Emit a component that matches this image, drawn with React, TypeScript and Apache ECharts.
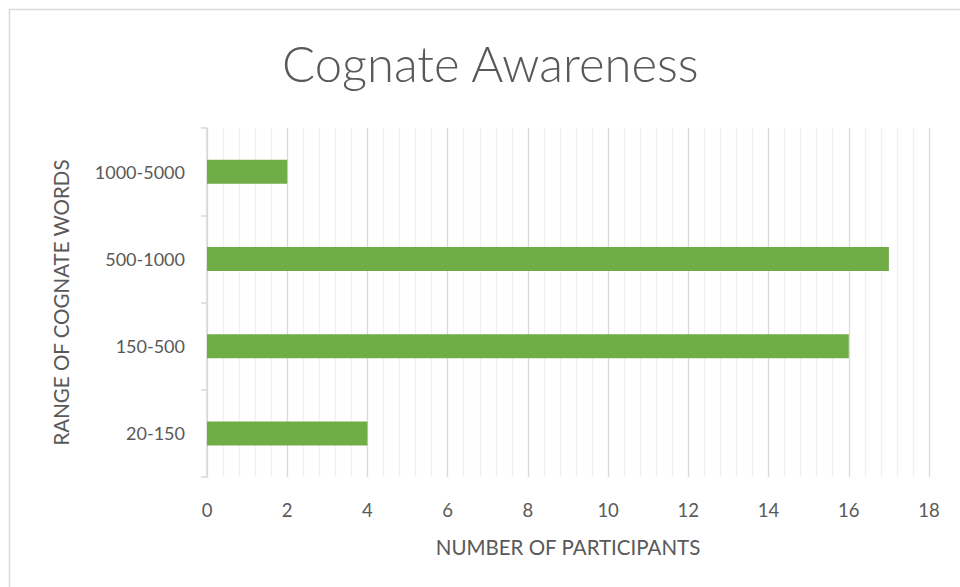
import React, { useEffect, useRef } from "react";
import * as echarts from "echarts";

const categories = ["20-150", "150-500", "500-1000", "1000-5000"];
const participants = [4, 16, 17, 2];
const titleText = "Cognate Awareness";
const xAxisTitle = "NUMBER OF PARTICIPANTS";
const yAxisTitle = "RANGE OF COGNATE WORDS";

export default function App() {
  const ref = useRef<HTMLDivElement>(null);
  useEffect(() => {
    if (!ref.current) return;
    const chart = echarts.init(ref.current, undefined, { renderer: "svg" });
    const font = "Lato, 'Open Sans', sans-serif";
    chart.setOption({
      animation: false,
      backgroundColor: "#ffffff",
      textStyle: { fontFamily: font },
      title: {
        text: titleText,
        left: 277,
        top: 33,
        textStyle: { fontFamily: font, fontSize: 49, fontWeight: 300, color: "#595959" },
      },
      graphic: [
        {
          type: "rect",
          shape: { x: 9.5, y: 9.5, width: 1000, height: 700 },
          style: { fill: "none", stroke: "#d9d9d9", lineWidth: 1.5 },
          silent: true,
        },
      ],
      grid: { left: 207, right: 31, top: 128, bottom: 110 },
      xAxis: {
        type: "value",
        min: 0,
        max: 18,
        interval: 2,
        name: xAxisTitle,
        nameLocation: "middle",
        nameGap: 59,
        nameTextStyle: { fontSize: 20.5, color: "#595959", fontFamily: font },
        axisLine: { show: false },
        axisTick: { show: false },
        axisLabel: { fontSize: 18.5, color: "#595959", margin: 23, fontFamily: font },
        splitLine: { show: true, lineStyle: { color: "#d9d9d9", width: 1.3 } },
        minorTick: { show: false, splitNumber: 5 },
        minorSplitLine: { show: true, lineStyle: { color: "#f0f0f0", width: 1.3 } },
      },
      yAxis: {
        type: "category",
        data: categories,
        name: yAxisTitle,
        nameLocation: "middle",
        nameGap: 136,
        nameRotate: 90,
        nameTextStyle: { fontSize: 20.5, color: "#595959", fontFamily: font },
        axisLine: { show: true, lineStyle: { color: "#d9d9d9", width: 1.5 } },
        axisTick: { show: true, length: 6, lineStyle: { color: "#d9d9d9", width: 1.5 } },
        axisLabel: { fontSize: 18, color: "#595959", margin: 22, fontFamily: font },
        splitLine: { show: false },
      },
      series: [
        {
          type: "bar",
          data: participants,
          barWidth: 24,
          itemStyle: { color: "#70ad47" },
        },
      ],
    });
    return () => chart.dispose();
  }, []);
  return (
    <div
      ref={ref}
      style={{ position: "absolute", left: 0, top: 0, width: 960, height: 587 }}
    />
  );
}
